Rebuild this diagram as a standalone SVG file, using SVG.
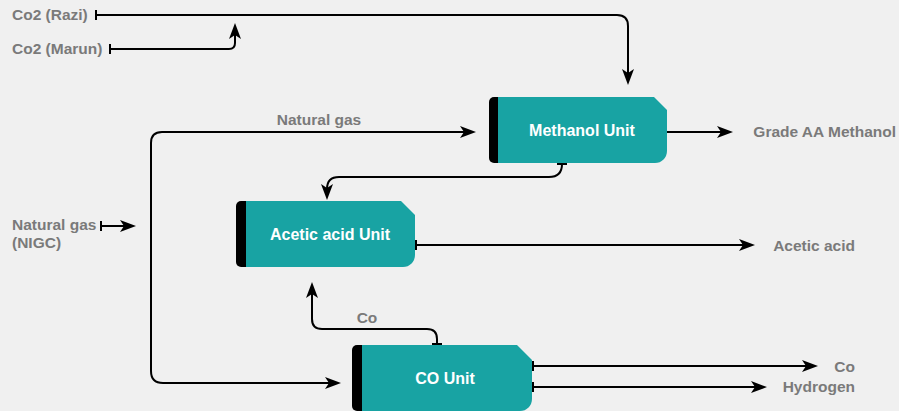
<svg xmlns="http://www.w3.org/2000/svg" width="899" height="411" viewBox="0 0 899 411">
<style>
.lbl{font-family:"Liberation Sans",Arial,sans-serif;font-weight:bold;font-size:15.5px;fill:#7a7a7a}
.ntx{font-family:"Liberation Sans",Arial,sans-serif;font-weight:bold;font-size:16px;fill:#ffffff;text-anchor:middle}
.body{fill:#18a3a3}
.bar{fill:#000000}
.con{fill:none;stroke:#000000;stroke-width:2}
.arr{marker-end:url(#arrow)}
.tee{marker-start:url(#tee)}
</style>
<defs>
<marker id="arrow" viewBox="0 0 16 12" refX="13" refY="6" markerWidth="16" markerHeight="12" orient="auto-start-reverse" markerUnits="userSpaceOnUse"><path d="M0,0 L16,6 L0,12 L4,6 Z" fill="#000"/></marker>
<marker id="tee" viewBox="0 0 2 10" refX="1" refY="5" markerWidth="2" markerHeight="10" orient="auto" markerUnits="userSpaceOnUse"><rect width="2" height="10" fill="#000"/></marker>
</defs>
<rect x="0" y="0" width="899" height="411" fill="#f0f0f0"/>

<g id="connectors">
<path class="con tee arr" d="M96,15 L617,15 Q628,15 628,26 L628,82"/>
<path class="con tee arr" d="M110,49 L229,49 Q235,49 235,43 L235,26"/>
<path class="con tee arr" d="M101,226 L133,226"/>
<path class="con arr" style="marker-start:url(#arrow)" d="M473,132 L162,132 Q151,132 151,143 L151,371 Q151,383 163,383 L338,383"/>
<path class="con arr" d="M667,132 L730,132"/>
<path class="con tee arr" d="M562,164 Q562,177 549,177 L339,177 Q327,177 327,189 L327,197"/>
<path class="con tee arr" d="M416,245 L752,245"/>
<path class="con tee arr" d="M437,344 L437,339 Q437,329 427,329 L322,329 Q312,329 312,319 L312,285"/>
<path class="con tee arr" d="M533,366 L815,366"/>
<path class="con tee arr" d="M533,387 L764,387"/>
</g>

<g id="labels">
<text class="lbl" x="12" y="20">Co2 (Razi)</text>
<text class="lbl" x="12" y="54">Co2 (Marun)</text>
<text class="lbl" x="12" y="230">Natural gas</text>
<text class="lbl" x="12" y="248">(NIGC)</text>
<text class="lbl" x="319" y="125" text-anchor="middle">Natural gas</text>
<text class="lbl" x="896" y="137" text-anchor="end">Grade AA Methanol</text>
<text class="lbl" x="855" y="251" text-anchor="end">Acetic acid</text>
<text class="lbl" x="367" y="323" text-anchor="middle">Co</text>
<text class="lbl" x="855" y="372" text-anchor="end">Co</text>
<text class="lbl" x="855" y="392" text-anchor="end">Hydrogen</text>
</g>

<g id="methanol-unit">
<rect class="bar" x="489" y="97" width="20" height="66" rx="5"/>
<path class="body" d="M498,97 L654,97 L667,110 L667,151 A12,12 0 0 1 655,163 L498,163 Z"/>
<text class="ntx" x="582" y="136">Methanol Unit</text>
</g>

<g id="acetic-acid-unit">
<rect class="bar" x="236" y="201" width="20" height="66" rx="5"/>
<path class="body" d="M246,201 L401,201 L415,215 L415,255 A12,12 0 0 1 403,267 L246,267 Z"/>
<text class="ntx" x="330" y="240">Acetic acid Unit</text>
</g>

<g id="co-unit">
<rect class="bar" x="352" y="345" width="20" height="66" rx="5"/>
<path class="body" d="M362,345 L517,345 L532,360 L532,399 A12,12 0 0 1 520,411 L362,411 Z"/>
<text class="ntx" x="445" y="384">CO Unit</text>
</g>
</svg>
